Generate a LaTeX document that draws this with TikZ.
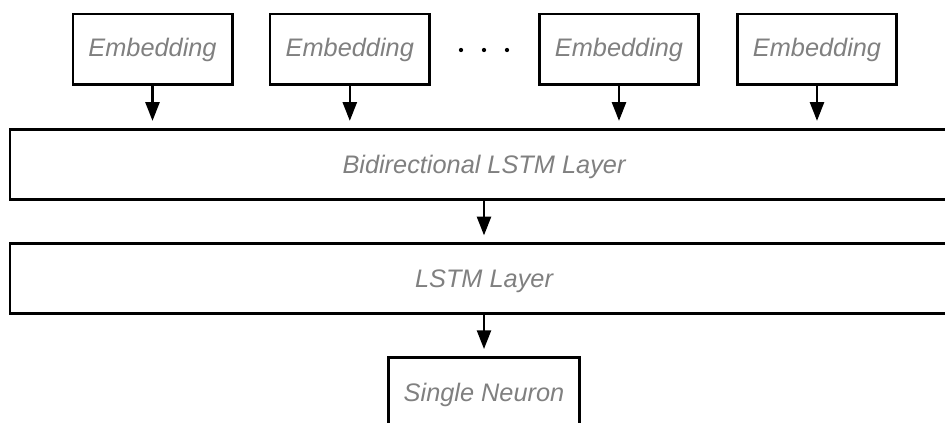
\documentclass[tikz,border=0pt]{standalone}
\usepackage{fontspec}
\setmainfont{Liberation Sans}
\usetikzlibrary{arrows.meta}
\definecolor{labelgray}{RGB}{128,128,128}
\tikzset{
  x=0.75pt, y=-0.75pt,
  box/.style={draw=black, line width=2pt, fill=white, inner sep=0pt,
    font=\fontsize{19}{22}\selectfont\itshape, text=labelgray},
  capcentred/.style={text height=13.6pt, text depth=0pt},
  embbox/.style={box, minimum width=119.5pt, minimum height=53pt},
  layerbox/.style={box, capcentred, minimum width=711pt, minimum height=52.5pt},
  outbox/.style={box, capcentred, minimum width=143pt, minimum height=53pt},
  flow/.style={draw=black, line width=1.7pt,
    -{Triangle[length=14pt,width=10.5pt]}, shorten >=5.25pt},
  dot/.style={circle, fill=black, inner sep=0pt, minimum size=3.2pt}
}
\begin{document}
\begin{tikzpicture}
  \useasboundingbox (0,0) rectangle (945,423);
  \clip (0,0) rectangle (945,423);
  \fill[white] (0,0) rectangle (945,423);

  % input embeddings
  \node[embbox] (e1) at (152.5,49.5) {Embedding};
  \node[embbox] (e2) at (349.8,49.5) {Embedding};
  \node[embbox] (e3) at (619,49.5) {Embedding};
  \node[embbox] (e4) at (817,49.5) {Embedding};

  % ellipsis between the second and third embedding
  \node[dot] (d1) at (461,50) {};
  \node[dot] (d2) at (484,50) {};
  \node[dot] (d3) at (507,50) {};

  % stacked recurrent layers
  \node[layerbox] (bi)   at (484,164.2) {Bidirectional LSTM Layer};
  \node[layerbox] (lstm) at (484,278.7) {LSTM Layer};

  % output unit
  \node[outbox] (out) at (484,392.7) {Single Neuron};

  % connectors
  \foreach \e in {e1,e2,e3,e4}
    \draw[flow] (\e.south) -- (\e.south |- bi.north);
  \draw[flow] (bi.south) -- (lstm.north);
  \draw[flow] (lstm.south) -- (out.north);
\end{tikzpicture}
\end{document}
